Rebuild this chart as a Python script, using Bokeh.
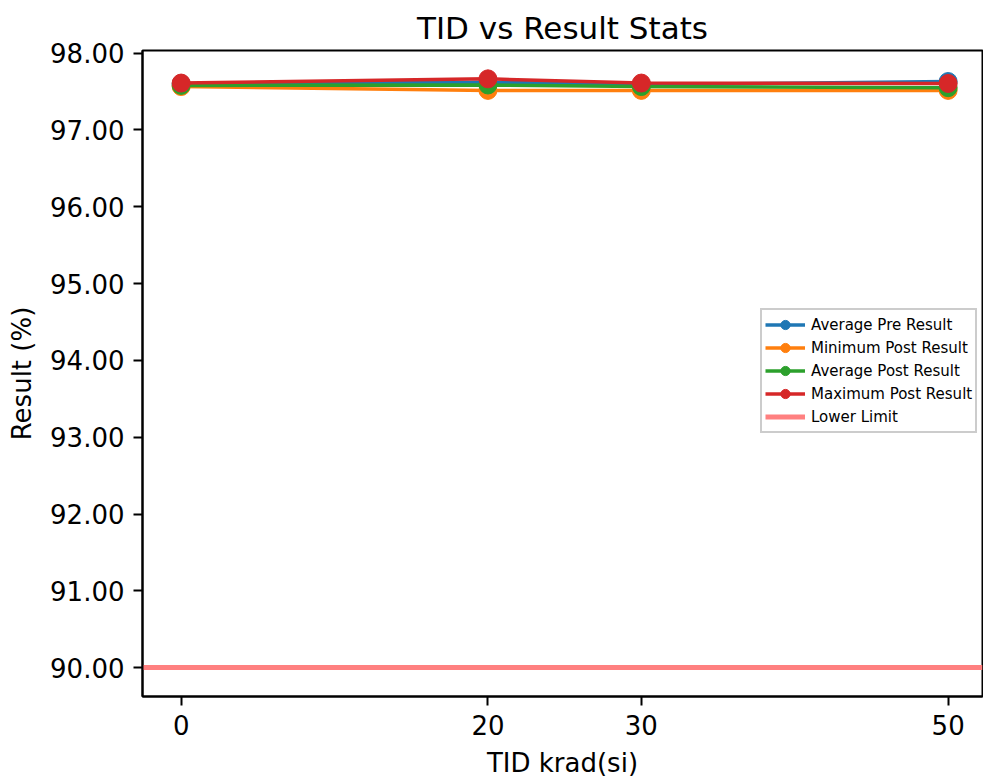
from bokeh.plotting import figure
from bokeh.models import FixedTicker, NumeralTickFormatter, Range1d, Legend, LegendItem
from bokeh.embed import file_html
from bokeh.resources import INLINE

tid = [0, 20, 30, 50]
avg_pre = [97.60, 97.62, 97.59, 97.63]
min_post = [97.565, 97.515, 97.515, 97.515]
avg_post = [97.58, 97.585, 97.565, 97.55]
max_post = [97.61, 97.665, 97.61, 97.605]
lower_limit = 90.0
y_ticks = [90, 91, 92, 93, 94, 95, 96, 97, 98]

series = [
    ("Average Pre Result", avg_pre, "#1f77b4"),
    ("Minimum Post Result", min_post, "#ff7f0e"),
    ("Average Post Result", avg_post, "#2ca02c"),
    ("Maximum Post Result", max_post, "#d62728"),
]

FONT = "DejaVu Sans"

p = figure(width=983, height=783, output_backend="svg", toolbar_location=None,
           x_range=Range1d(-2.52, 52.24), y_range=Range1d(89.626, 98.034),
           min_border_left=142, min_border_right=1, min_border_top=50, min_border_bottom=87)

p.title.text = "TID vs Result Stats"
p.title.align = "center"
p.title.text_font = FONT
p.title.text_font_size = "31px"
p.title.text_font_style = "normal"
p.title.text_color = "black"

p.xgrid.visible = False
p.ygrid.visible = False
p.outline_line_color = "black"
p.outline_line_width = 2

items = []
for name, vals, col in series:
    r1 = p.line(tid, vals, line_color=col, line_width=3.5)
    r2 = p.scatter(tid, vals, size=18, fill_color=col, line_color=col)
    items.append(LegendItem(label=name, renderers=[r1, r2]))

rl = p.hspan(y=[lower_limit], line_color="#ff8080", line_width=5)
items.append(LegendItem(label="Lower Limit", renderers=[rl]))

legend = Legend(items=items, location=(618, 263))
legend.label_text_font = FONT
legend.label_text_font_size = "15px"
legend.label_text_color = "black"
legend.border_line_color = "#cccccc"
legend.border_line_width = 2
legend.border_line_alpha = 1
legend.spacing = 0
legend.label_height = 23
legend.glyph_height = 23
legend.glyph_width = 40
legend.padding = 3
legend.margin = 0
legend.label_standoff = 6
p.add_layout(legend, "center")

p.xaxis.ticker = FixedTicker(ticks=tid)
p.yaxis.ticker = FixedTicker(ticks=y_ticks)
p.yaxis.formatter = NumeralTickFormatter(format="0.00")
for ax in (p.xaxis[0], p.yaxis[0]):
    ax.major_label_text_font = FONT
    ax.major_label_text_font_size = "26px"
    ax.major_label_text_color = "black"
    ax.axis_label_text_font = FONT
    ax.axis_label_text_font_size = "26px"
    ax.axis_label_text_font_style = "normal"
    ax.axis_label_text_color = "black"
    ax.minor_tick_line_color = None
    ax.major_tick_in = 0
    ax.major_tick_out = 9
    ax.major_tick_line_width = 2
    ax.major_tick_line_color = "black"
    ax.axis_line_width = 2
    ax.axis_line_color = "black"
    ax.major_label_standoff = 9
    ax.axis_label_standoff = 10
p.xaxis.axis_label = "TID krad(si)"
p.yaxis.axis_label = "Result (%)"

open("out.html", "w").write(file_html(p, INLINE))
